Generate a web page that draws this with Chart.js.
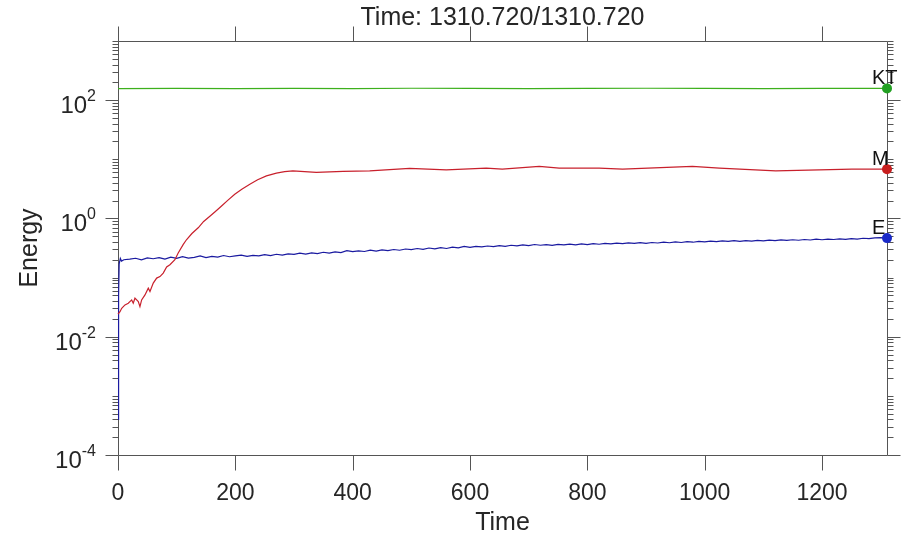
<!DOCTYPE html>
<html>
<head>
<meta charset="utf-8">
<script src="https://cdn.jsdelivr.net/npm/chart.js@4.4.0/dist/chart.umd.min.js"></script>
<style>
  html, body { margin: 0; padding: 0; background: #fff; }
  #chart { display: block; }
</style>
</head>
<body>
<canvas id="chart" width="905" height="543"></canvas>
<script>
const TITLE = 'Time: 1310.720/1310.720';
const T_END = 1310.72;

// KT (kinetic) - flat
const ktTime = [0, 100, 200, 300, 400, 500, 600, 700, 800, 900, 1000, 1100, 1200, T_END];
const ktValue = [156, 158, 157, 158, 157, 159, 158, 157, 158, 159, 158, 157, 158, 158];

// M (magnetic) - growth then saturation
const mTime = [0, 3.4, 6.3, 11.9, 17.5, 23.3, 26, 28.9, 34.6, 37.4, 40.3, 46, 51.6, 54.5, 60.1, 65.9,
  71.5, 77.1, 82.9, 88.5, 97, 102.6, 111, 117, 126, 136.7, 146, 156.6, 166, 176.5, 187, 199, 211,
  224.7, 238, 253, 270, 284, 298, 318, 338, 383.5, 429, 497, 559.5, 627.6, 655, 718, 752, 820, 860,
  979, 1025, 1121, 1195, 1251, T_END];
const mValue = [0.024, 0.0265, 0.0303, 0.0345, 0.0368, 0.0419, 0.0368, 0.0448, 0.0392, 0.0323, 0.0419,
  0.0509, 0.0662, 0.058, 0.0805, 0.098, 0.104, 0.119, 0.151, 0.165, 0.201, 0.261, 0.361, 0.44, 0.556,
  0.695, 0.889, 1.09, 1.31, 1.62, 2.02, 2.56, 3.11, 3.78, 4.52, 5.24, 5.82, 6.18, 6.37, 6.18, 5.99,
  6.23, 6.37, 7.0, 6.63, 7.08, 6.81, 7.57, 7.08, 7.08, 6.81, 7.57, 7.08, 6.37, 6.63, 6.81, 6.81];

// E - fast jump then slow noisy rise
const eTime = [0, 1, 2, 4, 6, 10, 20, 30, 40, 50, 60, 70, 80, 90, 100, 110, 120, 130, 140, 150, 160,
  170, 180, 190, 200, 210, 220, 230, 240, 250, 260, 270, 280, 290, 300, 310, 320, 330, 340, 350, 360,
  370, 380, 390, 400, 410, 420, 430, 440, 450, 460, 470, 480, 490, 500, 510, 520, 530, 540, 550, 560,
  570, 580, 590, 600, 610, 620, 630, 640, 650, 660, 670, 680, 690, 700, 710, 720, 730, 740, 750, 760,
  770, 780, 790, 800, 810, 820, 830, 840, 850, 860, 870, 880, 890, 900, 910, 920, 930, 940, 950, 960,
  970, 980, 990, 1000, 1010, 1020, 1030, 1040, 1050, 1060, 1070, 1080, 1090, 1100, 1110, 1120, 1130,
  1140, 1150, 1160, 1170, 1180, 1190, 1200, 1210, 1220, 1230, 1240, 1250, 1260, 1270, 1280, 1290,
  1300, T_END];
const eValue = [0.0004, 0.05, 0.17, 0.21, 0.19, 0.2, 0.205, 0.212, 0.2, 0.215, 0.208, 0.218, 0.205,
  0.222, 0.212, 0.226, 0.214, 0.22, 0.232, 0.218, 0.228, 0.222, 0.236, 0.225, 0.232, 0.24, 0.228,
  0.238, 0.232, 0.245, 0.236, 0.248, 0.24, 0.252, 0.246, 0.258, 0.25, 0.262, 0.255, 0.268, 0.26, 0.272,
  0.265, 0.285, 0.274, 0.282, 0.276, 0.29, 0.281, 0.294, 0.286, 0.298, 0.29, 0.304, 0.296, 0.31, 0.3,
  0.316, 0.306, 0.32, 0.31, 0.327, 0.318, 0.336, 0.324, 0.338, 0.33, 0.342, 0.334, 0.346, 0.338, 0.352,
  0.343, 0.356, 0.348, 0.362, 0.352, 0.36, 0.35, 0.364, 0.356, 0.368, 0.358, 0.37, 0.362, 0.375, 0.366,
  0.378, 0.37, 0.382, 0.374, 0.386, 0.378, 0.39, 0.38, 0.392, 0.384, 0.396, 0.388, 0.4, 0.392, 0.405,
  0.396, 0.41, 0.402, 0.414, 0.405, 0.416, 0.408, 0.42, 0.41, 0.422, 0.414, 0.426, 0.418, 0.43, 0.421,
  0.434, 0.425, 0.436, 0.428, 0.44, 0.432, 0.445, 0.436, 0.448, 0.44, 0.452, 0.444, 0.456, 0.448,
  0.462, 0.455, 0.47, 0.475, 0.465];

const xTicks = [0, 200, 400, 600, 800, 1000, 1200];
const yTicks = [1e-4, 1e-2, 1e0, 1e2];
const Y_MIN = 1e-4, Y_MAX = 1e3;

const FONT = '"Liberation Sans", Arial, Helvetica, sans-serif';
const TEXT_COLOR = '#262626';
const AXIS_COLOR = '#555555';

function toPoints(xs, ys) { return xs.map((x, i) => ({ x, y: ys[i] })); }

function lastDot(ctx) { return ctx.dataIndex === ctx.dataset.data.length - 1 ? 5 : 0; }

const frame = {
  id: 'frame',
  beforeDatasetsDraw(chart) {
    const { ctx, chartArea: a, scales: { x, y } } = chart;
    const L = Math.round(a.left) + 0.5, R = Math.round(a.right) + 0.5;
    const T = Math.round(a.top) + 0.5, B = Math.round(a.bottom) + 0.5;
    ctx.save();
    ctx.strokeStyle = AXIS_COLOR;
    ctx.lineWidth = 1;
    ctx.beginPath();
    ctx.rect(L, T, R - L, B - T);
    // x ticks top and bottom, pointing out
    for (const v of xTicks) {
      const px = Math.round(x.getPixelForValue(v)) + 0.5;
      ctx.moveTo(px, B); ctx.lineTo(px, B + 15);
      ctx.moveTo(px, T); ctx.lineTo(px, T - 15);
    }
    // y major + minor ticks, both sides
    for (let e = Math.log10(Y_MIN); e < Math.log10(Y_MAX) + 0.5; e++) {
      for (let m = 1; m <= 9; m++) {
        const v = m * Math.pow(10, e);
        if (v > Y_MAX * 1.0001) break;
        const major = m === 1 && yTicks.some(t => Math.abs(t - v) / v < 1e-6);
        const len = major ? 13 : 6;
        const py = Math.round(y.getPixelForValue(v)) + 0.5;
        ctx.moveTo(L, py); ctx.lineTo(L - len, py);
        ctx.moveTo(R, py); ctx.lineTo(R + len, py);
      }
    }
    ctx.stroke();

    // y tick labels: 10 with a raised exponent
    ctx.fillStyle = TEXT_COLOR;
    ctx.textBaseline = 'alphabetic';
    ctx.textAlign = 'left';
    for (const v of yTicks) {
      const py = y.getPixelForValue(v);
      const exp = String(Math.round(Math.log10(v)));
      ctx.font = '16px ' + FONT;
      const ew = ctx.measureText(exp).width;
      ctx.font = '24px ' + FONT;
      const bw = ctx.measureText('10').width;
      const right = a.left - 22;
      ctx.fillText('10', right - ew - bw, py + 13);
      ctx.font = '16px ' + FONT;
      ctx.fillText(exp, right - ew, py + 1);
    }
    ctx.restore();
  },
  afterDatasetsDraw(chart) {
    const { ctx } = chart;
    ctx.save();
    ctx.font = '20px ' + FONT;
    ctx.fillStyle = '#111';
    ctx.textAlign = 'left';
    ctx.textBaseline = 'alphabetic';
    chart.data.datasets.forEach((ds, i) => {
      const pts = chart.getDatasetMeta(i).data;
      const p = pts[pts.length - 1];
      ctx.fillText(ds.label, p.x - 15, p.y - 4);
    });
    ctx.restore();
  }
};

new Chart(document.getElementById('chart'), {
  type: 'line',
  data: {
    datasets: [
      { label: 'KT', data: toPoints(ktTime, ktValue), borderColor: '#3db01c', backgroundColor: '#22a022',
        pointBorderColor: '#22a022' },
      { label: 'M', data: toPoints(mTime, mValue), borderColor: '#c8202c', backgroundColor: '#c81e1e',
        pointBorderColor: '#c81e1e' },
      { label: 'E', data: toPoints(eTime, eValue), borderColor: '#1a1aa0', backgroundColor: '#1a2ac8',
        pointBorderColor: '#1a2ac8' }
    ]
  },
  options: {
    responsive: false,
    animation: false,
    devicePixelRatio: 1,
    clip: false,
    layout: { padding: { top: 0, right: 18, left: 0, bottom: 0 } },
    elements: {
      line: { borderWidth: 1.2, tension: 0 },
      point: { radius: lastDot, hoverRadius: lastDot, borderWidth: 0 }
    },
    plugins: {
      legend: { display: false },
      tooltip: { enabled: false },
      title: {
        display: true,
        text: TITLE,
        fullSize: false,
        color: TEXT_COLOR,
        font: { family: FONT, size: 25, weight: 'normal' },
        padding: { top: 3, bottom: 8 }
      }
    },
    scales: {
      x: {
        type: 'linear',
        min: 0,
        max: T_END,
        afterBuildTicks: s => { s.ticks = xTicks.map(v => ({ value: v })); },
        afterFit: s => { s.height = 88; },
        grid: { display: false, drawTicks: false },
        border: { display: false },
        ticks: { color: TEXT_COLOR, font: { family: FONT, size: 23 }, padding: 25, maxRotation: 0,
          callback: v => String(v) },
        title: { display: true, text: 'Time', color: TEXT_COLOR, font: { family: FONT, size: 25 },
          padding: { top: 0, bottom: 5 } }
      },
      y: {
        type: 'logarithmic',
        min: Y_MIN,
        max: Y_MAX,
        afterBuildTicks: s => { s.ticks = yTicks.map(v => ({ value: v })); },
        afterFit: s => { s.width = 118; },
        grid: { display: false, drawTicks: false },
        border: { display: false },
        ticks: { display: false },
        title: { display: true, text: 'Energy', color: TEXT_COLOR, font: { family: FONT, size: 25 },
          padding: { top: 15, bottom: 0 } }
      }
    }
  },
  plugins: [frame]
});
</script>
</body>
</html>
